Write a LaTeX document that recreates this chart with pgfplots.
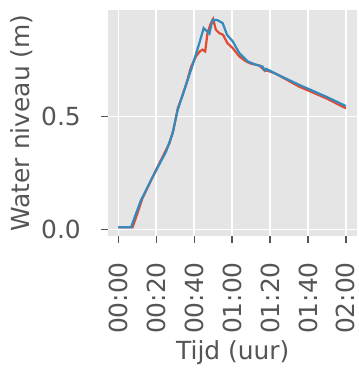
\documentclass[border=0pt]{standalone}
\usepackage{pgfplots}
\pgfplotsset{compat=1.18}
\usepackage{fontspec}
\setmainfont{DejaVu Sans}
\definecolor{ggred}{HTML}{E24A33}
\definecolor{ggblue}{HTML}{348ABD}
\definecolor{ggbg}{HTML}{E5E5E5}
\definecolor{gglab}{HTML}{555555}
\begin{document}
\begin{tikzpicture}
\useasboundingbox (0,0) rectangle (359bp,369bp);
\begin{axis}[
  at={(108.3bp,133bp)}, anchor=south west,
  scale only axis, width=249bp, height=226bp,
  xmin=-5.3, xmax=126, ymin=-0.029, ymax=0.973,
  axis background/.style={fill=ggbg},
  axis line style={draw=none},
  grid=major, major grid style={white, line width=1.6bp},
  tick align=outside, major tick length=7bp,
  tick style={gglab, line width=1.3bp},
  xtick={0,20,40,60,80,100,120},
  xticklabels={00:00,00:20,00:40,01:00,01:20,01:40,02:00},
  x tick label style={rotate=90, anchor=east, inner sep=0pt},
  xticklabel shift=19bp,
  ytick={0,0.5}, yticklabels={0.0,0.5},
  y tick label style={anchor=east, inner sep=0pt},
  yticklabel shift=20.3bp,
  ticklabel style={font=\fontsize{25}{28}\selectfont, text=gglab},
  /pgf/number format/assume math mode=true,
  xlabel={Tijd (uur)}, ylabel={Water niveau (m)},
  every axis x label/.style={at={(rel axis cs:0.5,0)}, yshift=-117bp, anchor=center, inner sep=0pt, font=\fontsize{25}{28}\selectfont, text=gglab},
  every axis y label/.style={at={(rel axis cs:0,0.5)}, xshift=-86.8bp, rotate=90, anchor=center, inner sep=0pt, font=\fontsize{25}{28}\selectfont, text=gglab},
  xtick pos=bottom, ytick pos=left,
  clip=true,
]
\addplot[ggred, line width=2.2bp] coordinates {
(0,0.01) (7.5,0.01) (10.0,0.07) (12.6,0.136) (18.1,0.233) (22,0.30) (26.9,0.381) (29,0.44) (31.3,0.536) (33.9,0.596) (36,0.65) (38.3,0.72) (40.9,0.767) (43,0.79) (44.4,0.797) (45.8,0.789) (47.0,0.871) (48.8,0.915) (50.0,0.933) (51.4,0.886) (53.1,0.871) (55.2,0.863) (57.5,0.826) (60.3,0.804) (63.8,0.767) (67.3,0.745) (70,0.735) (74.3,0.727) (77.0,0.705) (79,0.703) (83.1,0.690) (95.4,0.633) (109.5,0.582) (120,0.537)
};
\addplot[ggblue, line width=2.2bp] coordinates {
(0,0.01) (6.7,0.01) (9.3,0.07) (11.9,0.129) (18.1,0.233) (25.1,0.344) (28.6,0.426) (31.3,0.53) (34.8,0.619) (39.2,0.73) (42.7,0.826) (45.0,0.893) (46.5,0.88) (48.0,0.868) (49.7,0.930) (52.3,0.928) (55.0,0.915) (57.3,0.863) (60.3,0.834) (63.8,0.782) (68.2,0.745) (72,0.732) (76.1,0.722) (77.2,0.705) (77.9,0.712) (83.1,0.690) (95.4,0.641) (109.5,0.589) (120,0.547)
};
\end{axis}
\end{tikzpicture}
\end{document}
